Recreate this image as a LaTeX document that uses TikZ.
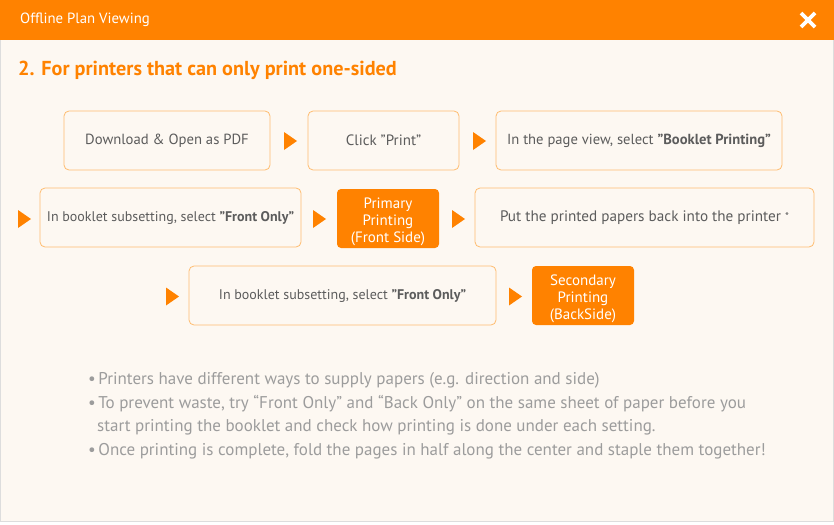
\documentclass[tikz,border=0pt]{standalone}
\usepackage{fontspec}
\setmainfont{PT Sans}
\usetikzlibrary{calc}
\definecolor{org}{HTML}{FF8200}
\definecolor{orgline}{HTML}{FFBC70}
\definecolor{cream}{HTML}{FDF8F2}
\definecolor{txt}{HTML}{5C5C5C}
\definecolor{bul}{HTML}{9C9C9C}
\definecolor{frame}{HTML}{DDDDDD}
\begin{document}
\begin{tikzpicture}[x=1pt,y=-1pt,
  stepbox/.style={draw=orgline, line width=0.8pt, rounded corners=5pt, fill=cream, text=txt,
    font=\fontsize{15}{17}\selectfont, align=center, minimum height=59pt, inner sep=0pt},
  hotbox/.style={fill=org, rounded corners=4pt, text=white,
    font=\fontsize{15}{17}\selectfont, align=center, minimum height=59pt, minimum width=102pt, inner sep=0pt},
  bullet/.style={anchor=west, text=bul, font=\fontsize{17}{19}\selectfont, inner sep=0pt}]
\useasboundingbox (0,0) rectangle (834,524);
\fill[white] (0,0) rectangle (834,524);
\draw[frame, fill=cream] (0.5,0.5) rectangle (833.5,521.5);
\fill[org] (0,0) rectangle (834,40);
\node[anchor=west, text=white, font=\fontsize{14.8}{16}\selectfont, inner sep=0pt] (title) at (20,20) {Offline Plan Viewing};
\coordinate (close) at (808,20);
\draw[white, line width=3.6pt] ($(close)+(-7,-7)$) -- ($(close)+(7,7)$) ($(close)+(-7,7)$) -- ($(close)+(7,-7)$);
\node[anchor=west, text=org, font=\bfseries\fontsize{20.2}{22}\selectfont, inner sep=0pt] (head) at (18,70) {2. For printers that can only print one-sided};

\node[stepbox, minimum width=206pt] (b1) at (167,140.5) {\fontsize{14.7}{17}\selectfont Download \& Open as PDF};
\node[stepbox, minimum width=151pt] (b2) at (383.5,140.5) {Click "Print"};
\node[stepbox, minimum width=286pt] (b3) at (639,140.5) {\fontsize{14.6}{17}\selectfont In the page view, select \textbf{"Booklet Printing"}};
\node[stepbox, minimum width=261pt] (b4) at (170.5,217.5) {\fontsize{14}{17}\selectfont In booklet subsetting, select \textbf{"Front Only"}};
\node[hotbox] (b5) at (388,218.5) {\raisebox{0pt}{}\\[-16pt]\\Primary\\Printing\\(Front Side)};
\node[stepbox, minimum width=339pt] (b6) at (644.5,217.5) {\fontsize{15.2}{17}\selectfont Put the printed papers back into the printer \raisebox{0.5pt}{\fontsize{11}{11}\selectfont *}};
\node[stepbox, minimum width=307pt] (b7) at (342.5,295.5) {\fontsize{14}{17}\selectfont In booklet subsetting, select \textbf{"Front Only"}};
\node[hotbox] (b8) at (583,295.5) {\raisebox{0pt}{}\\[-16pt]\\Secondary\\Printing\\(BackSide)};

\foreach \x/\y in {284/141, 473/141, 18/219, 313/219, 452/219, 166/296.5, 509/296.5}
  \fill[org] (\x,\y-9) -- (\x+13,\y) -- (\x,\y+9) -- cycle;

\node[bullet] (l1) at (88,380) {•\kern2.5pt Printers have different ways to supply papers (e.g. direction and side)};
\node[bullet] (l2) at (88,403.5) {•\kern2.5pt To prevent waste, try “Front Only” and “Back Only” on the same sheet of paper before you};
\node[bullet] (l3) at (97,427) {start printing the booklet and check how printing is done under each setting.};
\node[bullet] (l4) at (88,451) {•\kern2.5pt Once printing is complete, fold the pages in half along the center and staple them together!};
\end{tikzpicture}
\end{document}
